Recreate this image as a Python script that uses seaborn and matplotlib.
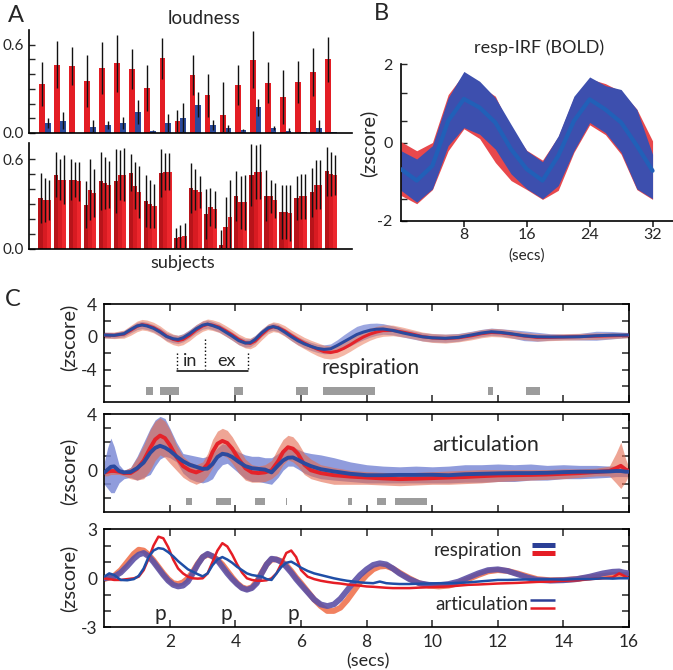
import numpy as np
import pandas as pd
import matplotlib
matplotlib.use("Agg")
import matplotlib.pyplot as plt
import seaborn as sns

# ---------------- Panel A data ----------------
subjects = [f"S{i+1}" for i in range(20)]
loud_speech = [0.333, 0.464, 0.457, 0.353, 0.44, 0.475, 0.435, 0.306, 0.507, 0.079,
               0.392, 0.256, 0.125, 0.324, 0.498, 0.342, 0.242, 0.346, 0.412, 0.5]
loud_speech_err = [0.149, 0.161, 0.129, 0.179, 0.176, 0.193, 0.135, 0.156, 0.138, 0.079,
                   0.135, 0.147, 0.224, 0.136, 0.192, 0.138, 0.184, 0.144, 0.163, 0.15]
loud_base = [0.068, 0.084, 0.0, 0.038, 0.052, 0.068, 0.145, 0.016, 0.066, 0.1,
             0.192, 0.054, 0.032, 0.023, 0.174, 0.034, 0.011, 0.007, 0.036, 0.005]
loud_base_err = [0.032, 0.059, 0.0, 0.052, 0.028, 0.042, 0.081, 0.004, 0.064, 0.104,
                 0.086, 0.036, 0.025, 0.007, 0.059, 0.011, 0.023, 0.003, 0.05, 0.002]

run1 = [0.342, 0.499, 0.465, 0.297, 0.454, 0.458, 0.51, 0.324, 0.51, 0.072,
        0.411, 0.234, 0.027, 0.353, 0.494, 0.357, 0.249, 0.342, 0.38, 0.521]
run2 = [0.33, 0.465, 0.465, 0.398, 0.443, 0.494, 0.425, 0.301, 0.517, 0.083,
        0.398, 0.279, 0.146, 0.312, 0.517, 0.353, 0.249, 0.353, 0.431, 0.503]
run3 = [0.33, 0.465, 0.454, 0.375, 0.431, 0.499, 0.38, 0.29, 0.517, 0.088,
        0.382, 0.267, 0.211, 0.312, 0.517, 0.326, 0.24, 0.353, 0.431, 0.494]
run1_err = [0.168, 0.15, 0.139, 0.157, 0.195, 0.214, 0.124, 0.175, 0.162, 0.072,
            0.167, 0.168, 0.1, 0.168, 0.207, 0.171, 0.18, 0.146, 0.164, 0.164]
run2_err = [0.146, 0.135, 0.119, 0.202, 0.175, 0.169, 0.159, 0.16, 0.123, 0.079,
            0.139, 0.128, 0.2, 0.176, 0.18, 0.112, 0.182, 0.15, 0.165, 0.146]
run3_err = [0.135, 0.166, 0.13, 0.158, 0.158, 0.175, 0.175, 0.148, 0.123, 0.085,
            0.11, 0.124, 0.25, 0.182, 0.184, 0.117, 0.187, 0.15, 0.165, 0.135]

# ---------------- Panel B data ----------------
tB = [0, 2, 4, 6, 8, 10, 12, 14, 16, 18, 20, 22, 24, 26, 28, 30, 32]
irf_mean = [-0.68, -0.97, -0.59, 0.55, 1.11, 0.89, 0.51, -0.17, -0.68, -0.97,
            -0.34, 0.55, 1.10, 0.84, 0.51, -0.08, -0.72]
irf_blue_hi = [-0.21, -0.42, -0.08, 1.14, 1.81, 1.56, 1.14, 0.46, -0.21, -0.49,
               0.17, 1.18, 1.67, 1.45, 1.35, 0.84, -0.3]
irf_blue_lo = [-1.22, -1.52, -1.18, -0.08, 0.38, 0.21, -0.17, -0.8, -1.18, -1.43,
               -1.1, -0.21, 0.51, 0.25, -0.25, -1.18, -1.43]
irf_red_hi = [0.02, -0.21, 0.0, 1.22, 1.75, 1.45, 1.18, 0.34, -0.2, -0.45,
              0.15, 1.15, 1.62, 1.5, 1.3, 0.85, 0.04]
irf_red_lo = [-1.35, -1.56, -1.2, -0.21, 0.35, 0.1, -0.51, -0.97, -1.2, -1.45,
              -1.22, -0.25, 0.45, 0.2, -0.3, -1.2, -1.45]

# ---------------- Panel C1 (respiration) ----------------
t1 = [0, 0.3, 0.6, 0.8, 1.0, 1.15, 1.3, 1.5, 1.7, 1.9,
      2.1, 2.25, 2.4, 2.6, 2.8, 3.0, 3.15, 3.3, 3.5, 3.7,
      3.9, 4.1, 4.3, 4.45, 4.6, 4.8, 5.0, 5.15, 5.3, 5.5,
      5.7, 5.9, 6.1, 6.3, 6.5, 6.7, 6.9, 7.1, 7.3, 7.5,
      7.7, 7.9, 8.1, 8.3, 8.5, 8.8, 9.1, 9.4, 9.7, 10.0,
      10.4, 10.8, 11.2, 11.5, 11.8, 12.1, 12.4, 12.8, 13.2, 13.6,
      14.0, 14.5, 15.0, 15.5, 16.0]
resp_blue = [0.24, 0.2, 0.4, 0.9, 1.35, 1.47, 1.35, 1.06, 0.6, 0.05,
             -0.22, -0.3, -0.1, 0.4, 1.0, 1.45, 1.58, 1.4, 1.1, 0.6,
             0.1, -0.45, -0.75, -0.7, -0.3, 0.5, 1.12, 1.27, 1.1, 0.6,
             0.05, -0.45, -0.85, -1.15, -1.4, -1.52, -1.45, -1.05, -0.6, -0.15,
             0.3, 0.6, 0.82, 0.95, 0.98, 0.8, 0.5, 0.25, 0.02, -0.1,
             -0.16, -0.05, 0.25, 0.48, 0.64, 0.55, 0.4, 0.15, 0.02, 0.0,
             0.0, 0.03, 0.15, 0.22, 0.24]
resp_red = [0.22, 0.2, 0.35, 0.8, 1.3, 1.5, 1.42, 1.15, 0.7, 0.1,
            -0.3, -0.45, -0.3, 0.2, 0.85, 1.35, 1.55, 1.45, 1.2, 0.75,
            0.25, -0.3, -0.7, -0.8, -0.5, 0.3, 1.0, 1.25, 1.15, 0.75,
            0.2, -0.3, -0.75, -1.15, -1.5, -1.8, -1.9, -1.75, -1.4, -0.95,
            -0.45, 0.0, 0.35, 0.6, 0.78, 0.8, 0.6, 0.35, 0.05, -0.12,
            -0.2, -0.1, 0.15, 0.4, 0.55, 0.5, 0.35, 0.12, -0.05, -0.05,
            0.0, 0.05, 0.1, 0.15, 0.2]
resp_blue_sd = [0.35, 0.35, 0.38, 0.42, 0.45, 0.45, 0.45, 0.45, 0.5, 0.5,
                0.5, 0.5, 0.5, 0.5, 0.5, 0.5, 0.5, 0.5, 0.5, 0.5,
                0.5, 0.5, 0.5, 0.5, 0.5, 0.45, 0.45, 0.45, 0.45, 0.45,
                0.5, 0.5, 0.5, 0.5, 0.5, 0.55, 0.6, 0.7, 0.85, 0.95,
                1.0, 0.95, 0.85, 0.75, 0.65, 0.55, 0.5, 0.5, 0.5, 0.5,
                0.5, 0.48, 0.45, 0.45, 0.45, 0.45, 0.5, 0.6, 0.55, 0.4,
                0.35, 0.4, 0.55, 0.45, 0.3]
resp_red_sd = [0.35, 0.4, 0.5, 0.6, 0.65, 0.65, 0.65, 0.65, 0.65, 0.65,
               0.65, 0.65, 0.65, 0.65, 0.65, 0.65, 0.65, 0.65, 0.65, 0.65,
               0.65, 0.65, 0.65, 0.65, 0.65, 0.65, 0.6, 0.6, 0.6, 0.65,
               0.65, 0.7, 0.7, 0.75, 0.8, 0.8, 0.8, 0.8, 0.8, 0.8,
               0.8, 0.8, 0.75, 0.7, 0.7, 0.65, 0.6, 0.55, 0.55, 0.55,
               0.55, 0.5, 0.5, 0.5, 0.5, 0.5, 0.5, 0.45, 0.45, 0.4,
               0.4, 0.4, 0.4, 0.35, 0.3]
sig_resp = [(1.26, 1.49), (1.71, 2.29), (3.97, 4.22), (5.84, 6.22),
            (6.66, 8.25), (11.71, 11.86), (12.85, 13.28)]

# ---------------- Panel C2 (articulation) ----------------
t2 = [0, 0.1, 0.2, 0.3, 0.45, 0.6, 0.8, 1.0, 1.2, 1.4,
      1.55, 1.7, 1.85, 2.0, 2.2, 2.4, 2.6, 2.8, 3.0, 3.15,
      3.3, 3.45, 3.6, 3.75, 3.9, 4.1, 4.3, 4.5, 4.7, 4.9,
      5.1, 5.3, 5.45, 5.6, 5.75, 5.9, 6.1, 6.3, 6.6, 7.0,
      7.5, 8.0, 8.5, 9.0, 9.5, 10.0, 10.5, 11.0, 11.5, 12.0,
      12.5, 13.0, 13.5, 14.0, 14.5, 15.0, 15.4, 15.6, 15.75, 15.9,
      16.0]
art_blue = [-0.16, 0.05, 0.25, 0.28, -0.05, -0.15, -0.12, 0.15, 0.55, 1.25,
            1.6, 1.75, 1.62, 1.4, 1.0, 0.65, 0.4, 0.25, 0.1, 0.12,
            0.45, 0.95, 1.18, 1.12, 0.95, 0.6, 0.3, 0.15, 0.1, 0.05,
            -0.15, 0.35, 0.7, 0.9, 0.92, 0.75, 0.5, 0.3, 0.08, -0.08,
            -0.25, -0.35, -0.35, -0.33, -0.33, -0.32, -0.35, -0.28, -0.25, -0.22,
            -0.2, -0.2, -0.18, -0.13, -0.1, -0.1, -0.08, -0.05, -0.05, -0.1,
            -0.1]
art_red = [-0.16, -0.1, -0.05, -0.05, -0.1, -0.2, -0.2, 0.1, 0.7, 1.6,
           2.2, 2.48, 2.3, 1.8, 0.95, 0.3, 0.0, -0.15, 0.05, 0.45,
           1.3, 1.9, 2.1, 1.95, 1.55, 0.8, 0.15, -0.15, -0.2, -0.15,
           0.0, 0.65, 1.3, 1.65, 1.55, 1.2, 0.4, 0.0, -0.2, -0.35,
           -0.45, -0.52, -0.58, -0.63, -0.6, -0.56, -0.52, -0.48, -0.42, -0.37,
           -0.35, -0.33, -0.3, -0.25, -0.2, -0.12, -0.05, 0.15, 0.32, 0.05,
           -0.05]
art_blue_hi = [0.6, 1.6, 2.3, 1.7, 0.4, 0.0, 0.2, 1.0, 2.0, 3.0,
               3.6, 3.85, 3.7, 3.0, 2.0, 1.2, 1.1, 1.0, 0.9, 1.0,
               1.2, 1.6, 1.9, 1.8, 1.6, 1.3, 1.1, 1.0, 1.0, 0.9,
               0.9, 1.2, 1.5, 1.7, 1.7, 1.5, 1.3, 1.2, 1.1, 0.9,
               0.6, 0.4, 0.3, 0.25, 0.3, 0.25, 0.3, 0.4, 0.4, 0.45,
               0.4, 0.45, 0.35, 0.4, 0.35, 0.35, 0.3, 0.3, 0.3, 0.2,
               0.2]
art_blue_lo = [-1.0, -1.3, -1.6, -1.6, -0.9, -0.6, -0.5, -0.7, -0.5, -0.3,
               0.3, 0.8, 1.0, 0.9, 0.6, -0.2, -0.6, -0.8, -0.9, -0.8,
               -0.6, 0.0, 0.4, 0.5, 0.2, -0.2, -0.6, -0.8, -0.8, -0.9,
               -1.0, -0.5, 0.0, 0.3, 0.3, 0.1, -0.2, -0.4, -0.6, -0.7,
               -0.8, -0.9, -0.9, -0.9, -0.9, -0.9, -0.9, -0.85, -0.85, -0.8,
               -0.8, -0.7, -0.7, -0.6, -0.6, -0.55, -0.5, -0.45, -0.45, -0.45,
               -0.45]
art_red_hi = [0.1, 0.1, 0.15, 0.15, 0.05, 0.0, 0.2, 0.9, 1.8, 2.9,
              3.5, 3.75, 3.5, 2.9, 1.8, 1.0, 0.6, 0.4, 0.6, 1.2,
              2.2, 2.8, 3.0, 2.85, 2.4, 1.6, 0.8, 0.4, 0.3, 0.4,
              0.7, 1.6, 2.2, 2.5, 2.4, 2.0, 1.2, 0.8, 0.4, 0.2,
              0.0, -0.1, -0.15, -0.2, -0.15, -0.1, -0.05, 0.0, 0.05, 0.05,
              0.05, 0.05, 0.05, 0.1, 0.1, 0.15, 0.3, 1.2, 2.0, 0.8,
              0.2]
art_red_lo = [-0.4, -0.4, -0.3, -0.3, -0.3, -0.4, -0.6, -0.7, -0.6, 0.0,
              0.7, 1.1, 0.9, 0.5, 0.0, -0.5, -0.8, -1.0, -0.8, -0.4,
              0.2, 0.9, 1.1, 0.9, 0.5, -0.2, -0.7, -0.85, -0.85, -0.8,
              -0.6, -0.2, 0.4, 0.75, 0.6, 0.3, -0.3, -0.6, -0.8, -1.0,
              -1.0, -1.0, -1.05, -1.1, -1.05, -1.0, -1.0, -0.95, -0.9, -0.8,
              -0.75, -0.7, -0.65, -0.6, -0.5, -0.4, -0.4, -0.9, -1.3, -0.8,
              -0.3]
sig_art = [(2.49, 2.66), (3.40, 3.86), (4.60, 4.90), (5.53, 5.57),
           (7.44, 7.55), (8.32, 8.59), (8.86, 9.83)]

# ---------------- Panel C3 (overlay) ----------------
t3 = [0, 0.15, 0.3, 0.5, 0.7, 0.9, 1.05, 1.2, 1.35, 1.5,
      1.65, 1.8, 1.95, 2.1, 2.25, 2.4, 2.55, 2.7, 2.85, 3.0,
      3.15, 3.3, 3.45, 3.6, 3.75, 3.9, 4.05, 4.2, 4.35, 4.5,
      4.65, 4.8, 4.95, 5.1, 5.25, 5.4, 5.55, 5.7, 5.85, 6.0,
      6.2, 6.4, 6.6, 6.8, 7.0, 7.2, 7.4, 7.6, 7.8, 8.0,
      8.2, 8.4, 8.6, 8.8, 9.0, 9.3, 9.6, 9.9, 10.2, 10.5,
      10.8, 11.1, 11.4, 11.7, 12.0, 12.3, 12.6, 12.9, 13.2, 13.6,
      14.0, 14.4, 14.8, 15.2, 15.5, 15.7, 15.85, 16.0]
ov_resp_blue = [0.0, 0.05, 0.1, 0.35, 0.75, 1.2, 1.45, 1.55, 1.35, 1.0,
                0.6, 0.2, -0.15, -0.4, -0.5, -0.45, -0.2, 0.3, 0.85, 1.3,
                1.5, 1.35, 1.1, 0.7, 0.3, -0.05, -0.35, -0.6, -0.7, -0.6,
                -0.3, 0.3, 0.85, 1.2, 1.15, 1.0, 0.7, 0.35, -0.05, -0.4,
                -0.85, -1.3, -1.6, -1.7, -1.6, -1.25, -0.75, -0.25, 0.2, 0.55,
                0.82, 0.92, 0.85, 0.6, 0.3, -0.05, -0.3, -0.4, -0.42, -0.35,
                -0.2, 0.05, 0.3, 0.5, 0.55, 0.45, 0.25, 0.05, -0.1, -0.14,
                -0.12, -0.05, 0.1, 0.3, 0.4, 0.42, 0.35, 0.3]
ov_resp_red = [-0.05, 0.05, 0.15, 0.5, 1.0, 1.5, 1.75, 1.7, 1.45, 1.1,
               0.7, 0.3, -0.05, -0.3, -0.35, -0.25, 0.0, 0.4, 0.9, 1.3,
               1.45, 1.35, 1.15, 0.85, 0.45, 0.05, -0.3, -0.55, -0.65, -0.55,
               -0.2, 0.35, 0.85, 1.15, 1.15, 1.05, 0.8, 0.45, 0.05, -0.3,
               -0.8, -1.3, -1.7, -2.0, -2.0, -1.8, -1.35, -0.8, -0.25, 0.2,
               0.55, 0.72, 0.75, 0.6, 0.35, 0.0, -0.3, -0.45, -0.5, -0.45,
               -0.3, -0.05, 0.2, 0.42, 0.5, 0.45, 0.3, 0.12, -0.05, -0.12,
               -0.1, -0.05, 0.05, 0.15, 0.2, 0.22, 0.2, 0.18]
ov_art_red = [0.0, -0.05, -0.1, -0.1, -0.05, 0.0, 0.1, 0.5, 1.2, 2.0,
              2.55, 2.45, 1.9, 1.15, 0.6, 0.3, 0.1, 0.0, -0.02, 0.0,
              0.3, 1.0, 1.7, 2.15, 1.95, 1.45, 0.85, 0.35, 0.0, -0.1,
              -0.15, -0.15, -0.12, 0.0, 0.3, 0.9, 1.55, 1.7, 1.3, 0.5,
              0.1, -0.05, -0.15, -0.22, -0.28, -0.32, -0.38, -0.42, -0.45, -0.5,
              -0.52, -0.55, -0.58, -0.6, -0.6, -0.6, -0.57, -0.55, -0.52, -0.5,
              -0.45, -0.4, -0.38, -0.35, -0.32, -0.3, -0.28, -0.25, -0.22, -0.2,
              -0.15, -0.12, -0.05, 0.0, 0.05, 0.3, 0.15, 0.0]
ov_art_blue = [0.1, 0.3, 0.2, -0.1, -0.12, -0.05, 0.15, 0.6, 1.3, 1.7,
               1.85, 1.8, 1.6, 1.35, 1.05, 0.8, 0.55, 0.4, 0.25, 0.12,
               0.3, 0.8, 1.15, 1.3, 1.15, 0.95, 0.7, 0.5, 0.3, 0.2,
               0.15, 0.1, -0.05, -0.1, 0.3, 0.7, 0.95, 1.02, 0.85, 0.65,
               0.45, 0.3, 0.2, 0.1, 0.0, -0.08, -0.15, -0.2, -0.25, -0.28,
               -0.3, -0.2, -0.3, -0.33, -0.35, -0.35, -0.33, -0.32, -0.3, -0.3,
               -0.28, -0.25, -0.2, -0.15, -0.1, -0.1, -0.08, -0.07, -0.07, -0.06,
               -0.08, -0.05, -0.05, 0.0, -0.02, 0.0, 0.0, 0.0]
p_times = [1.70, 3.73, 5.75]

# ---------------- styling ----------------
RED = "#e31d24"
BLUE = "#2b4a9b"
REDS3 = ["#b8141a", "#d81b22", "#ec272d"]
GRAY = "#9c9c9c"

sns.set_style("ticks")
plt.rcParams['font.family'] = ['Lato', 'DejaVu Sans']
plt.rcParams['axes.linewidth'] = 1.2
plt.rcParams['axes.edgecolor'] = 'black'

W, H = 673, 670
fig = plt.figure(figsize=(W / 100, H / 100), dpi=100)


def rect(l, t, r, b):
    return [l / W, 1 - b / H, (r - l) / W, (b - t) / H]


def ftext(x, y, s, **kw):
    fig.text(x / W, 1 - y / H, s, **kw)


def add_errbars(ax, errs_list):
    for cont, errs in zip(ax.containers, errs_list):
        xs = [p.get_x() + p.get_width() / 2 for p in cont.patches]
        ys = [p.get_height() for p in cont.patches]
        ax.errorbar(xs, ys, yerr=errs, fmt='none', ecolor='#111111',
                    elinewidth=1.0, capsize=0, zorder=5)


def style_A(ax, top):
    ax.set_xlim(-1.05, 20.4)
    ax.set_ylim(0, top)
    ax.set_xticks([])
    ax.set_xlabel('')
    ax.set_ylabel('')
    ax.set_yticks([0, 0.1, 0.2, 0.3, 0.4, 0.5, 0.6])
    ax.set_yticklabels(['0.0', '', '', '', '', '', '0.6'])
    ax.tick_params(axis='y', direction='in', length=4, width=1, pad=4, labelsize=11)
    sns.despine(ax=ax)


# Panel A top
axA1 = fig.add_axes(rect(29, 30, 352, 133))
dfA1 = pd.DataFrame({'subject': subjects * 2,
                     'cond': ['speech'] * 20 + ['baseline'] * 20,
                     'value': loud_speech + loud_base})
sns.barplot(data=dfA1, x='subject', y='value', hue='cond', palette=[RED, BLUE],
            width=0.76, saturation=1, errorbar=None, legend=False, ax=axA1,
            linewidth=0)
add_errbars(axA1, [loud_speech_err, loud_base_err])
style_A(axA1, 0.70)

# Panel A bottom
axA2 = fig.add_axes(rect(29, 143, 352, 249))
dfA2 = pd.DataFrame({'subject': subjects * 3,
                     'run': ['r1'] * 20 + ['r2'] * 20 + ['r3'] * 20,
                     'value': run1 + run2 + run3})
sns.barplot(data=dfA2, x='subject', y='value', hue='run', palette=REDS3,
            width=0.84, saturation=1, errorbar=None, legend=False, ax=axA2,
            linewidth=0)
add_errbars(axA2, [run1_err, run2_err, run3_err])
style_A(axA2, 0.71)

ftext(16, 16, 'A', fontsize=17, ha='center', va='center')
ftext(204, 18, 'loudness', fontsize=13.5, ha='center', va='center')
ftext(183, 263, 'subjects', fontsize=13, ha='center', va='center')

# Panel B
axB = fig.add_axes(rect(401, 64, 673, 221))
axB.fill_between(tB, irf_red_lo, irf_red_hi, color='#e8484c', lw=0, zorder=1)
axB.fill_between(tB, irf_blue_lo, irf_blue_hi, color='#3d4fae', lw=0, zorder=2)
sns.lineplot(x=tB, y=irf_mean, ax=axB, color='#2160b8', linewidth=3, zorder=3)
axB.set_xlim(0, 34.6)
axB.set_ylim(-2, 2)
axB.set_xticks([8, 16, 24, 32])
axB.set_xticklabels(['8', '16', '24', '32'])
axB.set_yticks([-2, -1.45, -0.75, 0, 0.55, 1.25, 2])
axB.set_yticklabels(['-2', '', '', '0', '', '', '2'])
axB.tick_params(axis='x', direction='out', length=4, width=1.2, labelsize=11.5, pad=1)
axB.tick_params(axis='y', direction='in', length=4, width=1, labelsize=11.5, pad=6)
sns.despine(ax=axB)
ftext(381, 13, 'B', fontsize=17, ha='center', va='center')
ftext(539, 48, 'resp-IRF (BOLD)', fontsize=13, ha='center', va='center')
ftext(368, 143, '(zscore)', fontsize=14.5, rotation=90, ha='center', va='center')
ftext(527, 256, '(secs)', fontsize=11, ha='center', va='center')


def style_C(ax, ylim, yticks, ylabels, xlabels):
    ax.set_xlim(0, 16)
    ax.set_ylim(*ylim)
    ax.set_yticks(yticks)
    ax.set_yticklabels(ylabels)
    ax.set_xticks([2, 4, 6, 8, 10, 12, 14, 16])
    if xlabels:
        ax.set_xticklabels([str(v) for v in [2, 4, 6, 8, 10, 12, 14, 16]])
    else:
        ax.set_xticklabels([])
    ax.tick_params(direction='in', length=5, width=1.1, top=True, right=True,
                   labelsize=12.5, pad=5)
    ax.set_xlabel('')
    ax.set_ylabel('')
    for s in ax.spines.values():
        s.set_visible(True)
        s.set_linewidth(1.2)


def sig_bars(ax, intervals, y0, h):
    ax.broken_barh([(a, b - a) for a, b in intervals], (y0, h),
                   facecolors=GRAY, edgecolor='none', zorder=2)


L, R = 104.3, 629

# C1
axC1 = fig.add_axes(rect(L, 304.3, R, 402.3))
axC1.fill_between(t1, np.array(resp_blue) - np.array(resp_blue_sd),
                  np.array(resp_blue) + np.array(resp_blue_sd),
                  color='#7382d4', alpha=0.7, lw=0, zorder=1)
axC1.fill_between(t1, np.array(resp_red) - np.array(resp_red_sd),
                  np.array(resp_red) + np.array(resp_red_sd),
                  color='#ec7d5e', alpha=0.55, lw=0, zorder=1.5)
sns.lineplot(x=t1, y=resp_red, ax=axC1, color='#e5232a', linewidth=2.2, zorder=3)
sns.lineplot(x=t1, y=resp_blue, ax=axC1, color='#2b4a9e', linewidth=2.2, zorder=4)
sig_bars(axC1, sig_resp, -7.1, 0.94)
axC1.plot([2.23, 2.23], [-2.0, -3.9], ls=':', color='black', lw=1)
axC1.plot([3.08, 3.08], [-0.2, -3.9], ls=':', color='black', lw=1)
axC1.plot([4.39, 4.39], [-2.0, -3.9], ls=':', color='black', lw=1)
axC1.plot([2.23, 4.39], [-4.12, -4.12], color='black', lw=1.1)
axC1.text(2.63, -3.0, 'in', fontsize=13, ha='center', va='center')
axC1.text(3.72, -3.0, 'ex', fontsize=13, ha='center', va='center')
axC1.text(6.62, -3.85, 'respiration', fontsize=15, ha='left', va='center')
style_C(axC1, (-8, 4), [-6, -4, -2, 0, 2, 4], ['', '-4', '', '0', '', '4'], False)

# C2
axC2 = fig.add_axes(rect(L, 414.3, R, 512.3))
axC2.fill_between(t2, art_blue_lo, art_blue_hi, color='#7d8bd6', alpha=0.85, lw=0, zorder=1)
axC2.fill_between(t2, art_red_lo, art_red_hi, color='#e46a4e', alpha=0.6, lw=0, zorder=1.5)
sns.lineplot(x=t2, y=art_red, ax=axC2, color='#e5232a', linewidth=2.8, zorder=3)
sns.lineplot(x=t2, y=art_blue, ax=axC2, color='#2b4a9e', linewidth=2.8, zorder=4)
sig_bars(axC2, sig_art, -2.5, 0.5)
axC2.text(10.0, 1.82, 'articulation', fontsize=15.5, ha='left', va='center')
style_C(axC2, (-3, 4), [-2, -1, 0, 1, 2, 3, 4], ['', '', '0', '', '', '', '4'], False)

# C3
axC3 = fig.add_axes(rect(L, 529.3, R, 627.3))
sns.lineplot(x=t3, y=ov_resp_red, ax=axC3, color='#f0734f', linewidth=4.2, alpha=0.9, zorder=2)
sns.lineplot(x=t3, y=ov_resp_blue, ax=axC3, color='#5d51a6', linewidth=4.2, alpha=0.9, zorder=3)
sns.lineplot(x=t3, y=ov_art_red, ax=axC3, color='#e51d25', linewidth=1.8, zorder=4)
sns.lineplot(x=t3, y=ov_art_blue, ax=axC3, color='#1f4ea6', linewidth=1.8, zorder=5)
for tp in p_times:
    axC3.text(tp, -2.2, 'p', fontsize=15, ha='center', va='center')
axC3.text(12.75, 1.73, 'respiration', fontsize=13.5, ha='right', va='center')
axC3.plot([13.03, 13.74], [2.04, 2.04], color='#2b3f96', lw=3.6, solid_capstyle='butt')
axC3.plot([13.03, 13.74], [1.53, 1.53], color='#e51d25', lw=3.6, solid_capstyle='butt')
axC3.text(12.93, -1.63, 'articulation', fontsize=13.5, ha='right', va='center')
axC3.plot([12.98, 13.74], [-1.33, -1.33], color='#2b3f96', lw=1.8, solid_capstyle='butt')
axC3.plot([12.98, 13.74], [-1.84, -1.84], color='#e51d25', lw=1.8, solid_capstyle='butt')
style_C(axC3, (-3, 3), [-3, -2, -1, 0, 1, 2, 3], ['-3', '', '', '0', '', '', '3'], True)

for yc in (337, 471, 578):
    ftext(68, yc, '(zscore)', fontsize=14.5, rotation=90, ha='center', va='center')
ftext(13, 300, 'C', fontsize=17, ha='center', va='center')
ftext(368, 661, '(secs)', fontsize=13, ha='center', va='center')

fig.savefig('out.png', dpi=100)
